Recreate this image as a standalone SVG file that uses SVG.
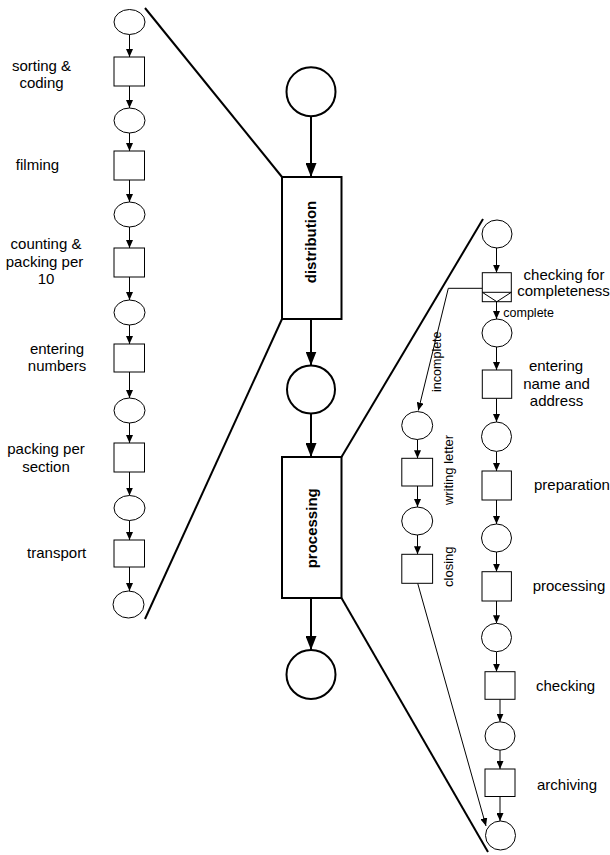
<svg xmlns="http://www.w3.org/2000/svg" width="610" height="855" viewBox="0 0 610 855">
<style>
  text { font-family: "Liberation Sans", Arial, sans-serif; fill: #000; }
  .lbl { font-size: 15px; }
  .sm { font-size: 12.5px; }
  .wl { font-size: 13px; }
  .big { font-size: 15px; font-weight: bold; }
  .thin { fill: #fff; stroke: #000; stroke-width: 1; }
  .thick { fill: #fff; stroke: #000; stroke-width: 2; }
  .cl { fill: none; stroke: #000; stroke-width: 1; }
  .cb { fill: none; stroke: #000; stroke-width: 2; }
  .sl { fill: none; stroke: #000; stroke-width: 2; }
</style>
<defs>
  <marker id="as" markerUnits="userSpaceOnUse" markerWidth="8" markerHeight="7" refX="8" refY="3.5" orient="auto">
    <path d="M0,0 L8,3.5 L0,7 Z" fill="#000"/>
  </marker>
  <marker id="ab" markerUnits="userSpaceOnUse" markerWidth="14" markerHeight="11" refX="14" refY="5.5" orient="auto">
    <path d="M0,0 L14,5.5 L0,11 Z" fill="#000"/>
  </marker>
</defs>
<rect width="610" height="855" fill="#fff"/>

<g id="connectors">
  <!-- zoom lines -->
  <line class="sl" x1="145" y1="8" x2="282" y2="177"/>
  <line class="sl" x1="282" y1="319" x2="145" y2="619"/>
  <line class="sl" x1="341.5" y1="457" x2="483" y2="219"/>
  <line class="sl" x1="341.5" y1="598" x2="488" y2="852"/>
  <!-- center arrows -->
  <line class="cb" x1="311" y1="116" x2="311" y2="177" marker-end="url(#ab)"/>
  <line class="cb" x1="311" y1="319" x2="311" y2="365.5" marker-end="url(#ab)"/>
  <line class="cb" x1="311" y1="413.5" x2="311" y2="457" marker-end="url(#ab)"/>
  <line class="cb" x1="311" y1="598" x2="311" y2="650" marker-end="url(#ab)"/>
  <!-- left column arrows -->
  <line class="cl" x1="129.5" y1="34.5" x2="129.5" y2="57" marker-end="url(#as)"/>
  <line class="cl" x1="129.5" y1="86" x2="129.5" y2="108" marker-end="url(#as)"/>
  <line class="cl" x1="129.5" y1="133" x2="129.5" y2="151" marker-end="url(#as)"/>
  <line class="cl" x1="129.5" y1="180" x2="129.5" y2="202" marker-end="url(#as)"/>
  <line class="cl" x1="129.5" y1="227" x2="129.5" y2="248" marker-end="url(#as)"/>
  <line class="cl" x1="129.5" y1="277" x2="129.5" y2="300" marker-end="url(#as)"/>
  <line class="cl" x1="129.5" y1="325" x2="129.5" y2="344" marker-end="url(#as)"/>
  <line class="cl" x1="129.5" y1="372" x2="129.5" y2="398" marker-end="url(#as)"/>
  <line class="cl" x1="129.5" y1="423" x2="129.5" y2="443" marker-end="url(#as)"/>
  <line class="cl" x1="129.5" y1="472" x2="129.5" y2="495.5" marker-end="url(#as)"/>
  <line class="cl" x1="129.5" y1="520.5" x2="129.5" y2="540" marker-end="url(#as)"/>
  <line class="cl" x1="129.5" y1="567" x2="129.5" y2="591" marker-end="url(#as)"/>
  <!-- right column arrows -->
  <line class="cl" x1="496.5" y1="248" x2="496.5" y2="272.7" marker-end="url(#as)"/>
  <line class="cl" x1="496.5" y1="301.7" x2="496.5" y2="319" marker-end="url(#as)"/>
  <line class="cl" x1="496.5" y1="347" x2="496.5" y2="370" marker-end="url(#as)"/>
  <line class="cl" x1="496.5" y1="398.3" x2="496.5" y2="422" marker-end="url(#as)"/>
  <line class="cl" x1="496.5" y1="451.5" x2="496.5" y2="471" marker-end="url(#as)"/>
  <line class="cl" x1="496.5" y1="500" x2="496.5" y2="524" marker-end="url(#as)"/>
  <line class="cl" x1="496.5" y1="552" x2="496.5" y2="571.7" marker-end="url(#as)"/>
  <line class="cl" x1="496.5" y1="601" x2="496.5" y2="623.3" marker-end="url(#as)"/>
  <line class="cl" x1="496.5" y1="651.7" x2="496.5" y2="671.7" marker-end="url(#as)"/>
  <line class="cl" x1="500" y1="699.3" x2="500" y2="721.7" marker-end="url(#as)"/>
  <line class="cl" x1="500" y1="750" x2="500" y2="769" marker-end="url(#as)"/>
  <line class="cl" x1="500" y1="796.5" x2="500" y2="821" marker-end="url(#as)"/>
  <!-- left branch -->
  <polyline class="cl" points="482.3,288.3 448.3,288.3 418.3,410.5" marker-end="url(#as)"/>
  <line class="cl" x1="417.5" y1="439.5" x2="417.5" y2="458.3" marker-end="url(#as)"/>
  <line class="cl" x1="417.5" y1="486" x2="417.5" y2="507" marker-end="url(#as)"/>
  <line class="cl" x1="417.5" y1="535" x2="417.5" y2="554.3" marker-end="url(#as)"/>
  <line class="cl" x1="417.7" y1="583.3" x2="486" y2="826" marker-end="url(#as)"/>
  <!-- connector labels -->
  <text class="sm" x="503.3" y="317">complete</text>
  <text class="sm" text-anchor="middle" transform="translate(440.7,361.7) rotate(-90)">incomplete</text>
</g>

<!-- center -->
<g id="c-start"><circle class="thick" cx="311" cy="91.7" r="24.5"/></g>
<g id="distribution">
  <rect class="thick" x="282" y="177" width="59.5" height="142"/>
  <text class="big" text-anchor="middle" transform="translate(316.3,242) rotate(-90)">distribution</text>
</g>
<g id="c-mid"><circle class="thick" cx="311" cy="389.5" r="24"/></g>
<g id="processing">
  <rect class="thick" x="282" y="457" width="59.5" height="141"/>
  <text class="big" text-anchor="middle" transform="translate(316.8,528.3) rotate(-90)">processing</text>
</g>
<g id="c-end"><circle class="thick" cx="311" cy="674.5" r="24.5"/></g>

<!-- left column -->
<g id="l-p1"><ellipse class="thin" cx="129.5" cy="22" rx="15.5" ry="12.5"/></g>
<g id="l-t1"><rect class="thin" x="114" y="57" width="30.5" height="29"/>
  <text class="lbl" text-anchor="middle" x="41.5" y="71">sorting &amp;</text>
  <text class="lbl" text-anchor="middle" x="41.5" y="88">coding</text></g>
<g id="l-p2"><ellipse class="thin" cx="129.5" cy="120.5" rx="15.5" ry="12.5"/></g>
<g id="l-t2"><rect class="thin" x="114" y="151" width="30.5" height="29"/>
  <text class="lbl" text-anchor="middle" x="37.5" y="170">filming</text></g>
<g id="l-p3"><ellipse class="thin" cx="129.5" cy="214.5" rx="15.5" ry="12.5"/></g>
<g id="l-t3"><rect class="thin" x="114" y="248" width="30.5" height="29"/>
  <text class="lbl" text-anchor="middle" x="46" y="249">counting &amp;</text>
  <text class="lbl" text-anchor="middle" x="44.5" y="266.5">packing per</text>
  <text class="lbl" text-anchor="middle" x="46" y="284">10</text></g>
<g id="l-p4"><ellipse class="thin" cx="129.5" cy="312.5" rx="15.5" ry="12.5"/></g>
<g id="l-t4"><rect class="thin" x="114" y="344" width="30.5" height="28"/>
  <text class="lbl" text-anchor="middle" x="57" y="353.5">entering</text>
  <text class="lbl" text-anchor="middle" x="57" y="371">numbers</text></g>
<g id="l-p5"><ellipse class="thin" cx="129.5" cy="410.5" rx="15.5" ry="12.5"/></g>
<g id="l-t5"><rect class="thin" x="114" y="443" width="30.5" height="29"/>
  <text class="lbl" text-anchor="middle" x="46" y="454">packing per</text>
  <text class="lbl" text-anchor="middle" x="46" y="471.5">section</text></g>
<g id="l-p6"><ellipse class="thin" cx="129.5" cy="508" rx="15.5" ry="12.5"/></g>
<g id="l-t6"><rect class="thin" x="114" y="540" width="30.5" height="27"/>
  <text class="lbl" text-anchor="middle" x="56.7" y="558">transport</text></g>
<g id="l-p7"><ellipse class="thin" cx="128.5" cy="604.5" rx="15.5" ry="13.5"/></g>

<!-- right column -->
<g id="r-p1"><ellipse class="thin" cx="497" cy="234" rx="15" ry="14"/></g>
<g id="r-t1">
  <rect class="thin" x="482.3" y="272.7" width="29" height="29"/>
  <line class="cl" x1="482.3" y1="292.3" x2="511.3" y2="292.3"/>
  <polyline class="cl" points="482.3,292.3 496.8,301.7 511.3,292.3"/>
  <text class="lbl" text-anchor="middle" x="564" y="280">checking for</text>
  <text class="lbl" text-anchor="middle" x="563.5" y="296">completeness</text>
</g>
<g id="r-p2"><ellipse class="thin" cx="497" cy="333" rx="15" ry="14"/></g>
<g id="r-t2"><rect class="thin" x="482.3" y="370" width="29.4" height="28.3"/>
  <text class="lbl" text-anchor="middle" x="556" y="371">entering</text>
  <text class="lbl" text-anchor="middle" x="556.5" y="388.5">name and</text>
  <text class="lbl" text-anchor="middle" x="556.5" y="405.5">address</text></g>
<g id="r-p3"><ellipse class="thin" cx="496.5" cy="436.7" rx="15" ry="14.7"/></g>
<g id="r-t3"><rect class="thin" x="482" y="471" width="29.4" height="29"/>
  <text class="lbl" x="534" y="490">preparation</text></g>
<g id="r-p4"><ellipse class="thin" cx="496.5" cy="538" rx="15" ry="14"/></g>
<g id="r-t4"><rect class="thin" x="482" y="571.7" width="29.4" height="29.3"/>
  <text class="lbl" x="532.7" y="590.5">processing</text></g>
<g id="r-p5"><ellipse class="thin" cx="496.5" cy="637.5" rx="15" ry="14.2"/></g>
<g id="r-t5"><rect class="thin" x="485" y="671.7" width="30" height="27.6"/>
  <text class="lbl" x="536" y="690.5">checking</text></g>
<g id="r-p6"><ellipse class="thin" cx="500" cy="736" rx="15" ry="14.2"/></g>
<g id="r-t6"><rect class="thin" x="485" y="769" width="30" height="27.5"/>
  <text class="lbl" x="537" y="789.5">archiving</text></g>
<g id="r-p7"><ellipse class="thin" cx="500.5" cy="835.5" rx="15" ry="14.5"/></g>

<!-- incomplete branch -->
<g id="b-p1"><ellipse class="thin" cx="417.2" cy="425.5" rx="15.5" ry="14"/></g>
<g id="b-t1"><rect class="thin" x="401.8" y="458.3" width="30.8" height="27.7"/>
  <text class="wl" text-anchor="middle" transform="translate(453.4,470) rotate(-90)">writing letter</text></g>
<g id="b-p2"><ellipse class="thin" cx="417.2" cy="521" rx="15.5" ry="14"/></g>
<g id="b-t2"><rect class="thin" x="401.8" y="554.3" width="30.8" height="29"/>
  <text class="wl" text-anchor="middle" transform="translate(453.4,566.7) rotate(-90)">closing</text></g>
</svg>
